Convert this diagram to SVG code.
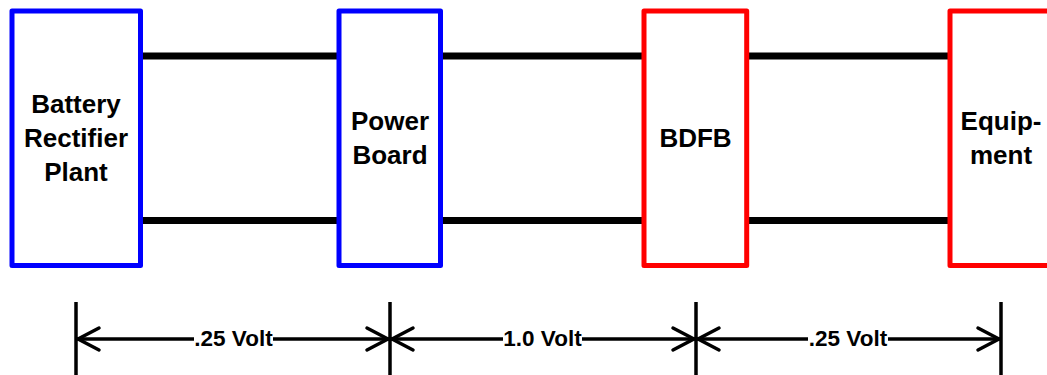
<svg xmlns="http://www.w3.org/2000/svg" width="1047" height="375" viewBox="0 0 1047 375">
<defs>
<style>
.box{fill:#fff;stroke-width:5;stroke-linejoin:round}
.blue{stroke:#0000ff}
.red{stroke:#ff0000}
.bus{stroke:#000;stroke-width:7;fill:none}
.dim{stroke:#000;stroke-width:3.5;fill:none;stroke-linecap:butt}
.head{stroke:#000;stroke-width:3.5;fill:none;stroke-linecap:round;stroke-linejoin:round}
.lbl{font-family:"Liberation Sans",Arial,sans-serif;font-weight:bold;font-size:26px;fill:#000;text-anchor:middle}
.dl{font-family:"Liberation Sans",Arial,sans-serif;font-weight:bold;font-size:22.5px;fill:#000;text-anchor:middle}
</style>
</defs>
<rect width="1047" height="375" fill="#fff"/>
<g id="connectors">
<line class="bus" x1="140" y1="56" x2="339" y2="56"/>
<line class="bus" x1="140" y1="220.5" x2="339" y2="220.5"/>
<line class="bus" x1="440" y1="56" x2="644" y2="56"/>
<line class="bus" x1="440" y1="220.5" x2="644" y2="220.5"/>
<line class="bus" x1="747" y1="56" x2="950" y2="56"/>
<line class="bus" x1="747" y1="220.5" x2="950" y2="220.5"/>
</g>
<g id="battery">
<rect class="box blue" x="12" y="11" width="128.5" height="254.5"/>
<text class="lbl" x="76" y="113">Battery</text>
<text class="lbl" x="76" y="147">Rectifier</text>
<text class="lbl" x="76" y="181">Plant</text>
</g>
<g id="powerboard">
<rect class="box blue" x="339" y="11" width="101.5" height="254.5"/>
<text class="lbl" x="390" y="130">Power</text>
<text class="lbl" x="390" y="164">Board</text>
</g>
<g id="bdfb">
<rect class="box red" x="644" y="11" width="102.7" height="254.5"/>
<text class="lbl" x="695.5" y="147">BDFB</text>
</g>
<g id="equipment">
<rect class="box red" x="950" y="11" width="130" height="254.5"/>
<text class="lbl" x="1001" y="130">Equip-</text>
<text class="lbl" x="1001" y="164">ment</text>
</g>
<g id="dimensions">
<line class="dim" x1="76" y1="302" x2="76" y2="376"/>
<line class="dim" x1="390" y1="302" x2="390" y2="376"/>
<line class="dim" x1="696" y1="302" x2="696" y2="376"/>
<line class="dim" x1="1001" y1="302" x2="1001" y2="376"/>
<line class="dim" x1="77" y1="339" x2="194" y2="339"/>
<line class="dim" x1="273" y1="339" x2="389" y2="339"/>
<line class="dim" x1="391" y1="339" x2="503" y2="339"/>
<line class="dim" x1="582" y1="339" x2="695" y2="339"/>
<line class="dim" x1="697" y1="339" x2="808" y2="339"/>
<line class="dim" x1="888" y1="339" x2="1000" y2="339"/>
<polyline class="head" points="99,328 78,339 99,350"/>
<polyline class="head" points="367,328 388,339 367,350"/>
<polyline class="head" points="413,328 392,339 413,350"/>
<polyline class="head" points="673,328 694,339 673,350"/>
<polyline class="head" points="719,328 698,339 719,350"/>
<polyline class="head" points="978,328 999,339 978,350"/>
<text class="dl" x="233.5" y="346">.25 Volt</text>
<text class="dl" x="542.5" y="346">1.0 Volt</text>
<text class="dl" x="848" y="346">.25 Volt</text>
</g>
</svg>
